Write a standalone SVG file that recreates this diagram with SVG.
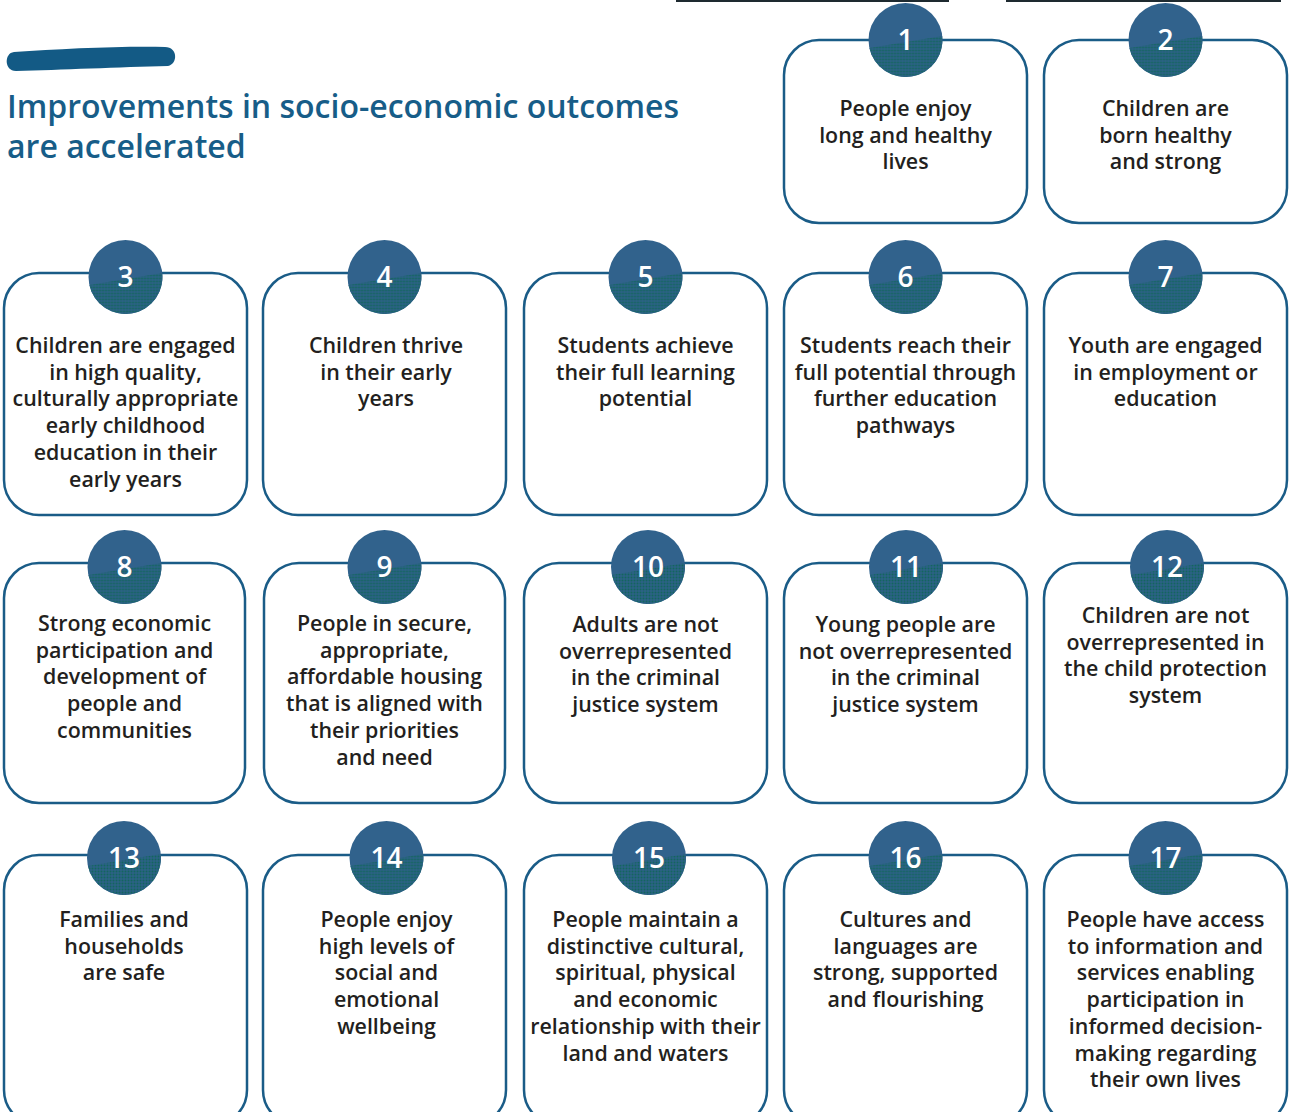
<svg xmlns="http://www.w3.org/2000/svg" xmlns:xlink="http://www.w3.org/1999/xlink" width="1293" height="1112" viewBox="0 0 1293 1112">
<style>
.box{fill:#fff;stroke:#1a5c87;stroke-width:2.5}
.t{font-family:"Open Sans","Noto Sans","Liberation Sans",sans-serif;font-size:21.4px;font-weight:600;fill:#231f20;text-anchor:middle}
.n{font-family:"Open Sans","Noto Sans","Liberation Sans",sans-serif;font-size:28px;font-weight:600;fill:#fff;text-anchor:middle}
.title{font-family:"Open Sans","Noto Sans","Liberation Sans",sans-serif;font-size:32px;font-weight:600;fill:#175d88}
</style>
<defs>
<pattern id="dots" patternUnits="userSpaceOnUse" width="3" height="3">
<rect width="3" height="3" fill="#2c6186"/>
<circle cx="1.5" cy="1.5" r="1" fill="#13665e"/>
</pattern>
<g id="badge">
<circle r="37" fill="#31628c"/>
<path d="M -36.12 8 L 36.78 -4 A 37 37 0 0 1 -36.12 8 Z" fill="url(#dots)"/>
</g>
</defs>
<rect width="1293" height="1112" fill="#fff"/>
<rect x="676" y="0" width="273" height="2" fill="#1e2a30"/>
<rect x="1006" y="0" width="275" height="2" fill="#1e2a30"/>
<g id="header">
<path d="M 14 52 C 60 49 120 46 165 47 C 178 47 178 64 168 66 C 120 67 60 70 16 71 C 4 71 4 53 14 52 Z" fill="#135a85"/>
<text class="title" x="7" y="118">Improvements in socio-economic outcomes</text>
<text class="title" x="7" y="158">are accelerated</text>
</g>
<g id="connectors"></g>

<g id="node1"><rect class="box" x="784" y="40" width="243" height="183" rx="35"/><use href="#badge" x="905.5" y="40"/><text class="n" x="905.5" y="50">1</text>
<text class="t" x="905.5" y="116">People enjoy</text><text class="t" x="905.5" y="142.7">long and healthy</text><text class="t" x="905.5" y="169.4">lives</text></g>
<g id="node2"><rect class="box" x="1044" y="40" width="243" height="183" rx="35"/><use href="#badge" x="1165.5" y="40"/><text class="n" x="1165.5" y="50">2</text>
<text class="t" x="1165.5" y="116">Children are</text><text class="t" x="1165.5" y="142.7">born healthy</text><text class="t" x="1165.5" y="169.4">and strong</text></g>

<g id="node3"><rect class="box" x="4" y="273" width="243" height="242" rx="35"/><use href="#badge" x="125.5" y="277"/><text class="n" x="125.5" y="287">3</text>
<text class="t" x="125.5" y="353">Children are engaged</text><text class="t" x="125.5" y="379.7">in high quality,</text><text class="t" x="125.5" y="406.4">culturally appropriate</text><text class="t" x="125.5" y="433.1">early childhood</text><text class="t" x="125.5" y="459.8">education in their</text><text class="t" x="125.5" y="486.5">early years</text></g>
<g id="node4"><rect class="box" x="263" y="273" width="243" height="242" rx="35"/><use href="#badge" x="384.5" y="277"/><text class="n" x="384.5" y="287">4</text>
<text class="t" x="386" y="353">Children thrive</text><text class="t" x="386" y="379.7">in their early</text><text class="t" x="386" y="406.4">years</text></g>
<g id="node5"><rect class="box" x="524" y="273" width="243" height="242" rx="35"/><use href="#badge" x="645.5" y="277"/><text class="n" x="645.5" y="287">5</text>
<text class="t" x="645.5" y="353">Students achieve</text><text class="t" x="645.5" y="379.7">their full learning</text><text class="t" x="645.5" y="406.4">potential</text></g>
<g id="node6"><rect class="box" x="784" y="273" width="243" height="242" rx="35"/><use href="#badge" x="905.5" y="277"/><text class="n" x="905.5" y="287">6</text>
<text class="t" x="905.5" y="353">Students reach their</text><text class="t" x="905.5" y="379.7">full potential through</text><text class="t" x="905.5" y="406.4">further education</text><text class="t" x="905.5" y="433.1">pathways</text></g>
<g id="node7"><rect class="box" x="1044" y="273" width="243" height="242" rx="35"/><use href="#badge" x="1165.5" y="277"/><text class="n" x="1165.5" y="287">7</text>
<text class="t" x="1165.5" y="353">Youth are engaged</text><text class="t" x="1165.5" y="379.7">in employment or</text><text class="t" x="1165.5" y="406.4">education</text></g>

<g id="node8"><rect class="box" x="4" y="563" width="241" height="240" rx="35"/><use href="#badge" x="124.5" y="567"/><text class="n" x="124.5" y="577">8</text>
<text class="t" x="124.5" y="631">Strong economic</text><text class="t" x="124.5" y="657.7">participation and</text><text class="t" x="124.5" y="684.4">development of</text><text class="t" x="124.5" y="711.1">people and</text><text class="t" x="124.5" y="737.8">communities</text></g>
<g id="node9"><rect class="box" x="264" y="563" width="241" height="240" rx="35"/><use href="#badge" x="384.5" y="567"/><text class="n" x="384.5" y="577">9</text>
<text class="t" x="384.5" y="631">People in secure,</text><text class="t" x="384.5" y="657.7">appropriate,</text><text class="t" x="384.5" y="684.4">affordable housing</text><text class="t" x="384.5" y="711.1">that is aligned with</text><text class="t" x="384.5" y="737.8">their priorities</text><text class="t" x="384.5" y="764.5">and need</text></g>
<g id="node10"><rect class="box" x="524" y="563" width="243" height="240" rx="35"/><use href="#badge" x="648" y="567"/><text class="n" x="648" y="577">10</text>
<text class="t" x="645.5" y="632">Adults are not</text><text class="t" x="645.5" y="658.7">overrepresented</text><text class="t" x="645.5" y="685.4">in the criminal</text><text class="t" x="645.5" y="712.1">justice system</text></g>
<g id="node11"><rect class="box" x="784" y="563" width="243" height="240" rx="35"/><use href="#badge" x="906" y="567"/><text class="n" x="906" y="577">11</text>
<text class="t" x="905.5" y="632">Young people are</text><text class="t" x="905.5" y="658.7">not overrepresented</text><text class="t" x="905.5" y="685.4">in the criminal</text><text class="t" x="905.5" y="712.1">justice system</text></g>
<g id="node12"><rect class="box" x="1044" y="563" width="243" height="240" rx="35"/><use href="#badge" x="1167" y="567"/><text class="n" x="1167" y="577">12</text>
<text class="t" x="1165.5" y="623">Children are not</text><text class="t" x="1165.5" y="649.7">overrepresented in</text><text class="t" x="1165.5" y="676.4">the child protection</text><text class="t" x="1165.5" y="703.1">system</text></g>

<g id="node13"><rect class="box" x="4" y="855" width="243" height="270" rx="35"/><use href="#badge" x="124" y="858"/><text class="n" x="124" y="868">13</text>
<text class="t" x="124" y="927">Families and</text><text class="t" x="124" y="953.7">households</text><text class="t" x="124" y="980.4">are safe</text></g>
<g id="node14"><rect class="box" x="263" y="855" width="243" height="270" rx="35"/><use href="#badge" x="386.5" y="858"/><text class="n" x="386.5" y="868">14</text>
<text class="t" x="386.5" y="927">People enjoy</text><text class="t" x="386.5" y="953.7">high levels of</text><text class="t" x="386.5" y="980.4">social and</text><text class="t" x="386.5" y="1007.1">emotional</text><text class="t" x="386.5" y="1033.8">wellbeing</text></g>
<g id="node15"><rect class="box" x="524" y="855" width="243" height="270" rx="35"/><use href="#badge" x="649" y="858"/><text class="n" x="649" y="868">15</text>
<text class="t" x="645.5" y="927">People maintain a</text><text class="t" x="645.5" y="953.7">distinctive cultural,</text><text class="t" x="645.5" y="980.4">spiritual, physical</text><text class="t" x="645.5" y="1007.1">and economic</text><text class="t" x="645.5" y="1033.8">relationship with their</text><text class="t" x="645.5" y="1060.5">land and waters</text></g>
<g id="node16"><rect class="box" x="784" y="855" width="243" height="270" rx="35"/><use href="#badge" x="905.5" y="858"/><text class="n" x="905.5" y="868">16</text>
<text class="t" x="905.5" y="927">Cultures and</text><text class="t" x="905.5" y="953.7">languages are</text><text class="t" x="905.5" y="980.4">strong, supported</text><text class="t" x="905.5" y="1007.1">and flourishing</text></g>
<g id="node17"><rect class="box" x="1044" y="855" width="243" height="270" rx="35"/><use href="#badge" x="1165.5" y="858"/><text class="n" x="1165.5" y="868">17</text>
<text class="t" x="1165.5" y="927">People have access</text><text class="t" x="1165.5" y="953.7">to information and</text><text class="t" x="1165.5" y="980.4">services enabling</text><text class="t" x="1165.5" y="1007.1">participation in</text><text class="t" x="1165.5" y="1033.8">informed decision-</text><text class="t" x="1165.5" y="1060.5">making regarding</text><text class="t" x="1165.5" y="1087.2">their own lives</text></g>
</svg>
